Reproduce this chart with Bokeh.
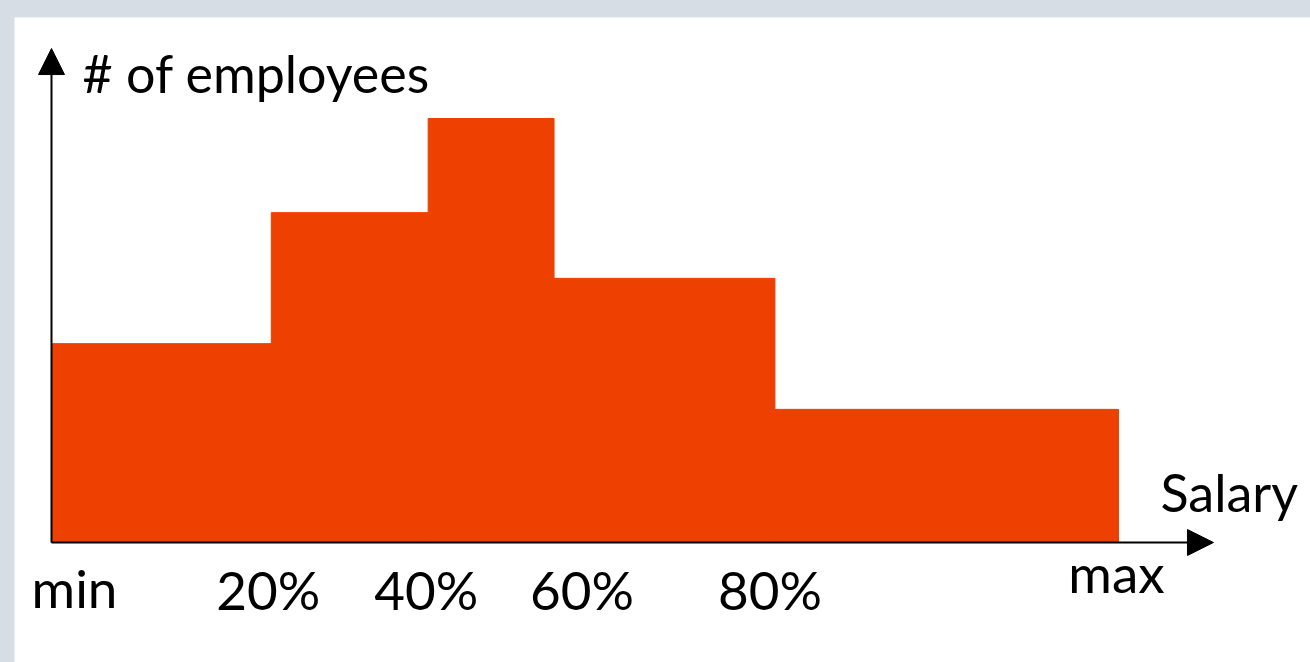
from bokeh.plotting import figure
from bokeh.models import Range1d, Arrow, NormalHead, ColumnDataSource
from bokeh.core.properties import value
from bokeh.embed import file_html
from bokeh.resources import INLINE

# ---- data ----
bin_edges = [0.0, 20.6, 35.3, 47.1, 67.8, 100.0]          # salary scale (min .. max)
counts = [4.69, 7.78, 10.0, 6.23, 3.14]                    # number of employees per bin
tick_labels = ["min", "20%", "40%", "60%", "80%", "max"]
x_title = "Salary"
y_title = "# of employees"

# ---- style ----
BAR = "#EE4000"
FONT = value("Lato")
label_dx = [23, -3, -2, 28, -5, -2]
label_dy = [45, 47, 47, 47, 47, 30]

W, H = 1296, 645
p = figure(width=W, height=H, output_backend="svg", toolbar_location=None,
           x_axis_type=None, y_axis_type=None, min_border=0,
           outline_line_color=None, background_fill_color="white",
           border_fill_color="white")
p.grid.visible = False
p.x_range = Range1d(-37 / 10.67, (W - 37) / 10.67)
p.y_range = Range1d(-(H - 525) / 42.4, 525 / 42.4)

x_tip = 108.9
y_tip = 11.65

# axes with arrow heads
p.add_layout(Arrow(end=NormalHead(size=26, fill_color="black", line_color="black"),
                   x_start=0, y_start=0, x_end=x_tip, y_end=0,
                   line_color="black", line_width=2))
p.add_layout(Arrow(end=NormalHead(size=26, fill_color="black", line_color="black"),
                   x_start=0, y_start=0, x_end=0, y_end=y_tip,
                   line_color="black", line_width=2))

src = ColumnDataSource(dict(left=bin_edges[:-1], right=bin_edges[1:], top=counts,
                            bottom=[0] * len(counts)))
p.quad(left="left", right="right", top="top", bottom="bottom", source=src,
       fill_color=BAR, line_color=BAR, line_width=1)

# tick labels
lab = ColumnDataSource(dict(x=bin_edges, y=[0] * len(bin_edges), t=tick_labels,
                            dx=label_dx, dy=label_dy))
p.text(x="x", y="y", text="t", x_offset="dx", y_offset="dy", source=lab,
       text_font=FONT, text_font_size=value("53px"), text_align="center",
       text_baseline="alphabetic", text_color="black")

# axis titles
p.text(x=[0], y=[y_tip], text=[y_title], x_offset=31, y_offset=24,
       text_font=FONT, text_font_size=value("52px"), text_align="left",
       text_baseline="alphabetic", text_color="black")
p.text(x=[x_tip], y=[0], text=[x_title], x_offset=-53, y_offset=-51,
       text_font=FONT, text_font_size=value("52px"), text_align="left",
       text_baseline="alphabetic", text_color="black")

html = file_html(p, INLINE, title="Salary histogram")
style = ("<style>html,body{margin:0;padding:0;background:#d6dde4;overflow:hidden;}"
         "body{padding:17px 0 0 14px;box-sizing:border-box;height:662px;}</style>")
html = html.replace("</head>", style + "</head>", 1)
open("out.html", "w").write(html)
